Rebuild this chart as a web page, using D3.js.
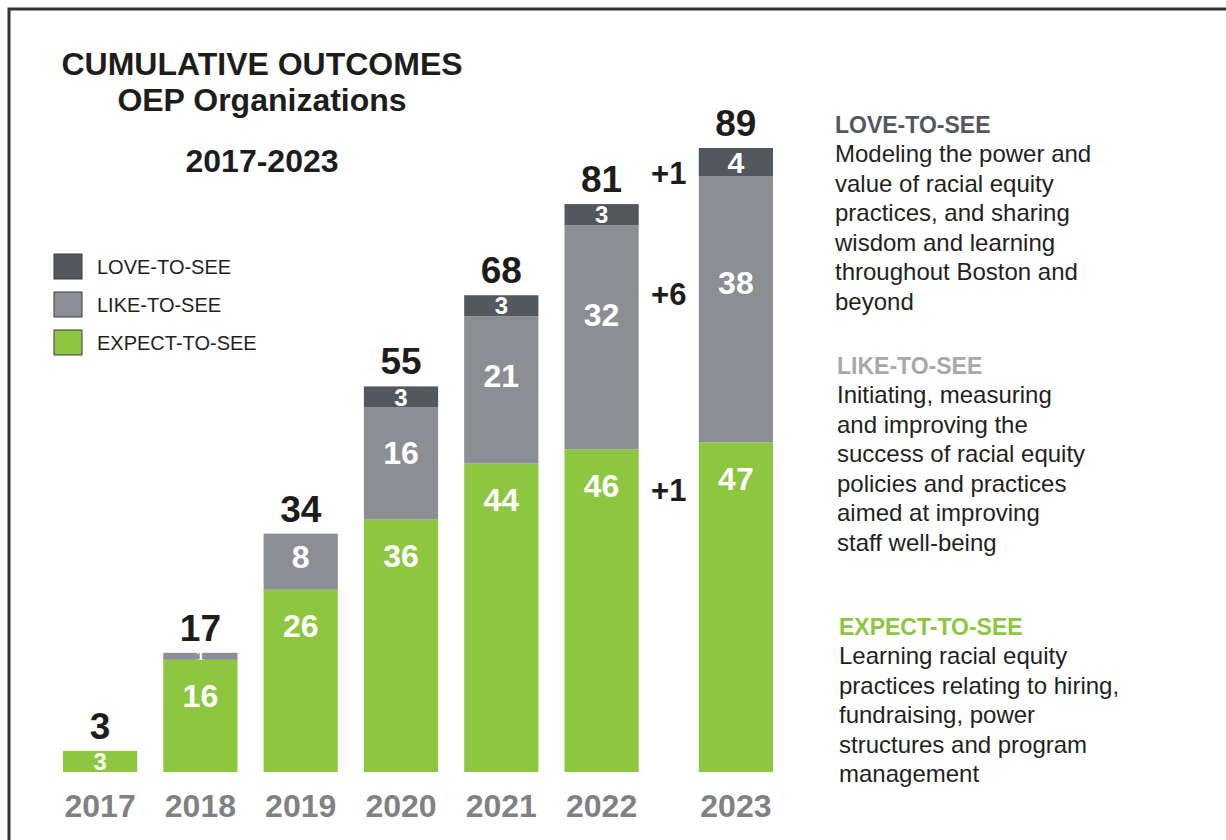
<!DOCTYPE html>
<html>
<head>
<meta charset="utf-8">
<script src="https://cdn.jsdelivr.net/npm/d3@7"></script>
<style>
  body { margin: 0; background: #fff; }
  svg text { font-family: "Liberation Sans", Arial, sans-serif; }
</style>
</head>
<body>
<div id="chart"></div>
<script>
// data
var years = ["2017", "2018", "2019", "2020", "2021", "2022", "2023"];
var expectToSee = [3, 16, 26, 36, 44, 46, 47];
var likeToSee = [0, 1, 8, 16, 21, 32, 38];
var loveToSee = [0, 0, 0, 3, 3, 3, 4];

var seriesKeys = ["expect", "like", "love"];
var legendLabels = ["LOVE-TO-SEE", "LIKE-TO-SEE", "EXPECT-TO-SEE"];
var titleLines = ["CUMULATIVE OUTCOMES", "OEP Organizations"];
var subTitle = "2017-2023";

var loveText = ["Modeling the power and", "value of racial equity", "practices, and sharing",
    "wisdom and learning", "throughout Boston and", "beyond"];
var likeText = ["Initiating, measuring", "and improving the", "success of racial equity",
    "policies and practices", "aimed at improving", "staff well-being"];
var expectText = ["Learning racial equity", "practices relating to hiring,", "fundraising, power",
    "structures and program", "management"];

var svgWidth = 1226;
var svgHeight = 840;

var colors = { love: "#53575e", like: "#8b8e92", expect: "#8dc63f" };

var svg = d3.select("#chart")
    .append("svg")
    .attr("width", svgWidth)
    .attr("height", svgHeight);

// frame (top and left edges visible)
svg.append("path")
    .attr("d", "M9,840 V9 H1226")
    .attr("fill", "none")
    .attr("stroke", "#333")
    .attr("stroke-width", 3);

// build rows for the stack
var rows = years.map(function(y, i) {
    return { year: y, expect: expectToSee[i], like: likeToSee[i], love: loveToSee[i] };
});
var totals = rows.map(d => d.expect + d.like + d.love);

var stack = d3.stack().keys(seriesKeys);
var stacked = stack(rows);

// scales
var lastGap = 34;
var xScale = d3.scaleBand()
    .domain(years)
    .range([63, 739])
    .paddingInner(0.26)
    .paddingOuter(0);
function xPos(year) {
    return xScale(year) + (year === years[years.length - 1] ? lastGap : 0);
}
var barW = xScale.bandwidth();

var yScale = d3.scaleLinear()
    .domain([0, d3.max(totals)])
    .range([772, 148]);

var chartGroup = svg.append("g");
var defs = svg.append("defs");

// where the number sits inside each segment
function labelY(key, top, h) {
    if (key === "expect") return top + Math.min(h / 2, 36);
    if (key === "like") return top + h * 0.4;
    return top + h / 2;
}

stacked.forEach(function(layer) {
    var key = layer.key;
    layer.forEach(function(seg, i) {
        var v = seg[1] - seg[0];
        if (v <= 0) return;
        var x0 = xPos(years[i]);
        var top = yScale(seg[1]);
        var h = yScale(seg[0]) - top;
        var id = "clip-" + key + "-" + i;

        defs.append("clipPath").attr("id", id)
            .append("rect")
            .attr("x", x0).attr("y", top)
            .attr("width", barW).attr("height", h);

        chartGroup.append("rect")
            .attr("x", x0)
            .attr("y", top)
            .attr("width", barW)
            .attr("height", h)
            .attr("fill", colors[key]);

        var fs = Math.max(15, Math.min(32, h * 0.9 + 5));
        chartGroup.append("text")
            .attr("clip-path", "url(#" + id + ")")
            .attr("x", x0 + barW / 2)
            .attr("y", labelY(key, top, h))
            .attr("dy", "0.36em")
            .attr("text-anchor", "middle")
            .style("font-size", fs + "px")
            .style("font-weight", "bold")
            .style("fill", "#fff")
            .text(v);
    });
});

// totals above bars
chartGroup.selectAll(".total")
    .data(rows)
    .enter()
    .append("text")
    .attr("class", "total")
    .attr("x", d => xPos(d.year) + barW / 2)
    .attr("y", (d, i) => yScale(totals[i]) - 12)
    .attr("text-anchor", "middle")
    .style("font-size", "37px")
    .style("font-weight", "bold")
    .style("fill", "#1d1d1b")
    .text((d, i) => totals[i]);

// year labels
chartGroup.selectAll(".year")
    .data(years)
    .enter()
    .append("text")
    .attr("class", "year")
    .attr("x", d => xPos(d) + barW / 2)
    .attr("y", 817)
    .attr("text-anchor", "middle")
    .style("font-size", "32px")
    .style("font-weight", "bold")
    .style("fill", "#808184")
    .text(d => d);

// change between the last two years, per series
var n = years.length;
var prevX = xPos(years[n - 2]) + barW;
var lastX = xPos(years[n - 1]);
stacked.forEach(function(layer) {
    var key = layer.key;
    var a = layer[n - 2], b = layer[n - 1];
    var diff = (b[1] - b[0]) - (a[1] - a[0]);
    var top = yScale(b[1]);
    var h = yScale(b[0]) - top;
    chartGroup.append("text")
        .attr("x", (prevX + lastX) / 2)
        .attr("y", labelY(key, top, h) + 11)
        .attr("dy", "0.36em")
        .attr("text-anchor", "middle")
        .style("font-size", "31px")
        .style("font-weight", "bold")
        .style("fill", "#1d1d1b")
        .text("+" + diff);
});

// title
var titleGroup = svg.append("g").attr("transform", "translate(262, 0)");
titleLines.forEach(function(t, i) {
    titleGroup.append("text")
        .attr("y", 75 + i * 36)
        .attr("text-anchor", "middle")
        .style("font-size", "32px")
        .style("font-weight", "bold")
        .style("fill", "#1d1d1b")
        .text(t);
});
titleGroup.append("text")
    .attr("y", 172)
    .attr("text-anchor", "middle")
    .style("font-size", "32px")
    .style("font-weight", "bold")
    .style("fill", "#1d1d1b")
    .text(subTitle);

// legend
var legendKeys = ["love", "like", "expect"];
var legend = svg.append("g").attr("transform", "translate(54, 254)");
legendKeys.forEach(function(k, i) {
    legend.append("rect")
        .attr("x", 0)
        .attr("y", i * 38)
        .attr("width", 28)
        .attr("height", 25)
        .attr("fill", colors[k])
        .attr("stroke", "#3a3a3a")
        .attr("stroke-width", 1);
    legend.append("text")
        .attr("x", 43)
        .attr("y", i * 38 + 20)
        .style("font-size", "20px")
        .style("fill", "#231f20")
        .text(legendLabels[i]);
});

// descriptions on the right
var blocks = [
    { head: legendLabels[0], color: "#53575e", lines: loveText, x: 835, y: 133 },
    { head: legendLabels[1], color: "#a6a8ab", lines: likeText, x: 837, y: 374 },
    { head: legendLabels[2], color: "#8dc63f", lines: expectText, x: 839, y: 635 }
];
blocks.forEach(function(b) {
    var g = svg.append("g").attr("transform", `translate(${b.x}, ${b.y})`);
    g.append("text")
        .style("font-size", "23px")
        .style("font-weight", "bold")
        .style("fill", b.color)
        .text(b.head);
    b.lines.forEach(function(line, i) {
        g.append("text")
            .attr("y", 29 + i * 29.5)
            .style("font-size", "24px")
            .style("fill", "#231f20")
            .text(line);
    });
});
</script>
</body>
</html>
